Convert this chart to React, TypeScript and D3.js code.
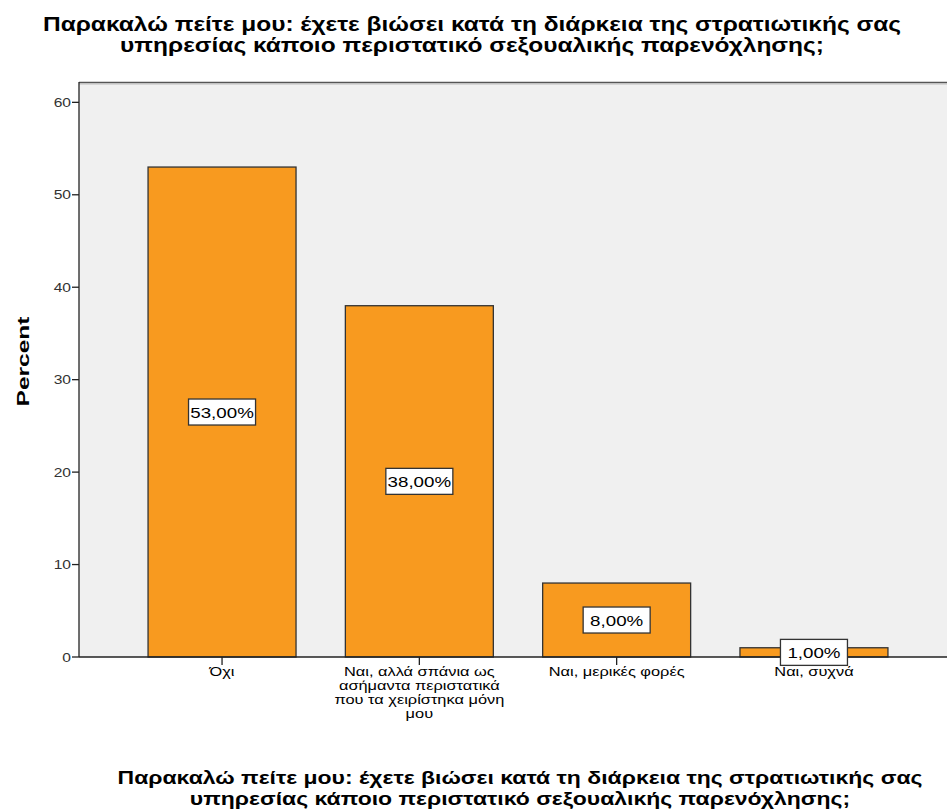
import React from "react";
import * as d3 from "d3";

const categories: string[][] = [
  ["Όχι"],
  ["Ναι, αλλά σπάνια ως", "ασήμαντα περιστατικά", "που τα χειρίστηκα μόνη", "μου"],
  ["Ναι, μερικές φορές"],
  ["Ναι, συχνά"],
];
const percents: number[] = [53, 38, 8, 1];
const yTicks: number[] = [0, 10, 20, 30, 40, 50, 60];
const titleLines: string[] = [
  "Παρακαλώ πείτε μου: έχετε βιώσει κατά τη διάρκεια της στρατιωτικής σας",
  "υπηρεσίας κάποιο περιστατικό σεξουαλικής παρενόχλησης;",
];
const yLabel = "Percent";

const W = 947;
const H = 811;
const plotLeft = 79;
const plotRight = 957;
const plotTop = 82;
const plotBottom = 657;
const font = "Arial, 'Liberation Sans', sans-serif";

type TProps = {
  x: number;
  y: number;
  sx: number;
  size: number;
  anchor?: string;
  weight?: string;
  fill?: string;
  rotate?: number;
  children: React.ReactNode;
};
function T({ x, y, sx, size, anchor = "middle", weight = "normal", fill = "#000", rotate = 0, children }: TProps) {
  return (
    <g transform={`translate(${x},${y}) rotate(${rotate}) scale(${sx},1)`}>
      <text textAnchor={anchor} fontFamily={font} fontSize={size} fontWeight={weight} fill={fill}>
        {children}
      </text>
    </g>
  );
}

export default function App() {
  const x = d3
    .scaleBand<number>()
    .domain(d3.range(categories.length))
    .range([plotLeft, plotRight])
    .paddingInner(0.25)
    .paddingOuter(0.35);
  const y = d3.scaleLinear().domain([0, 62.2]).range([plotBottom, plotTop]);
  const fmt = (v: number) => v.toFixed(2).replace(".", ",") + "%";

  return (
    <svg width={W} height={H} style={{ position: "absolute", left: 0, top: 0, background: "#fff" }}>
      {/* title */}
      {titleLines.map((t, i) => (
        <T key={i} x={472} y={31 + i * 21} sx={1.225} size={20} weight="bold">
          {t}
        </T>
      ))}
      {/* plot background */}
      <rect x={plotLeft} y={plotTop} width={plotRight - plotLeft} height={plotBottom - plotTop} fill="#f0f0f0" />
      <line x1={plotLeft} x2={plotRight} y1={plotTop + 0.5} y2={plotTop + 0.5} stroke="#555" strokeWidth={1.5} />
      <line x1={plotLeft} x2={plotRight} y1={plotTop + 2} y2={plotTop + 2} stroke="#bbb" strokeWidth={1} />
      {/* bars */}
      {percents.map((v, i) => (
        <rect
          key={i}
          x={x(i)!}
          y={y(v)}
          width={x.bandwidth()}
          height={plotBottom - y(v)}
          fill="#f89a1f"
          stroke="#333"
          strokeWidth={1.3}
        />
      ))}
      {/* y axis */}
      <line x1={plotLeft} x2={plotLeft} y1={plotTop} y2={plotBottom} stroke="#222" strokeWidth={1.3} />
      {yTicks.map((t) => (
        <g key={t}>
          <line x1={plotLeft - 7} x2={plotLeft} y1={y(t)} y2={y(t)} stroke="#222" strokeWidth={1.3} />
          <T x={plotLeft - 8} y={y(t) + 4.5} sx={1.2} size={13} anchor="end" fill="#333">
            {t}
          </T>
        </g>
      ))}
      <T x={29} y={(plotTop + plotBottom) / 2 - 8} sx={1.44} size={17} weight="bold" rotate={-90}>
        {yLabel}
      </T>
      {/* x axis */}
      <line x1={plotLeft} x2={plotRight} y1={plotBottom} y2={plotBottom} stroke="#222" strokeWidth={1.3} />
      {categories.map((lines, i) => {
        const cx = x(i)! + x.bandwidth() / 2;
        return (
          <g key={i}>
            <line x1={cx} x2={cx} y1={plotBottom} y2={plotBottom + 8} stroke="#222" strokeWidth={1.3} />
            {lines.map((l, j) => (
              <T key={j} x={cx} y={676 + j * 14} sx={1.28} size={12.8}>
                {l}
              </T>
            ))}
          </g>
        );
      })}
      {/* value labels */}
      {percents.map((v, i) => {
        const cx = x(i)! + x.bandwidth() / 2;
        const cy = (y(v) + plotBottom) / 2;
        const bw = 67;
        const bh = 26;
        return (
          <g key={i}>
            <rect x={cx - bw / 2} y={cy - bh / 2} width={bw} height={bh} fill="#fff" stroke="#333" strokeWidth={1.3} />
            <T x={cx} y={cy + 5.5} sx={1.25} size={15}>
              {fmt(v)}
            </T>
          </g>
        );
      })}
      {/* x axis title */}
      {titleLines.map((t, i) => (
        <T key={i} x={(plotLeft + plotRight) / 2 + 2} y={784 + i * 21} sx={1.21} size={19} weight="bold">
          {t}
        </T>
      ))}
    </svg>
  );
}
